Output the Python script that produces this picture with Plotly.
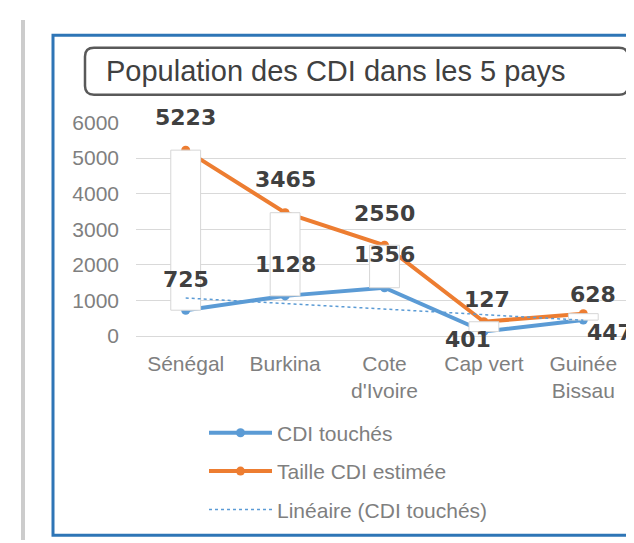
import numpy as np
import plotly.graph_objects as go

# ---- data ----
countries = ["Sénégal", "Burkina", "Cote<br>d'Ivoire", "Cap vert", "Guinée<br>Bissau"]
cdi_touches = [725, 1128, 1356, 127, 447]
taille_estimee = [5223, 3465, 2550, 401, 628]
y_ticks = [0, 1000, 2000, 3000, 4000, 5000, 6000]
title_text = "Population des CDI dans les 5 pays"
names = ["CDI touchés", "Taille CDI estimée", "Linéaire (CDI touchés)"]

# ---- style ----
W, H = 634, 543
PX0, PX1, PY0, PY1 = 128, 625, 107, 330   # plot area in pixels
BLUE, ORANGE = "#5B9BD5", "#ED7D31"
FONT = "Liberation Sans, Arial, sans-serif"
LABEL_FONT = dict(family="DejaVu Sans", size=22, color="#404040", weight="bold")
# label offsets (xshift, yshift) per point
blue_off = [(0, 31), (0, 31), (0, 33), (3, 32), (27, -12)]
orange_off = [(0, 33), (0, 33), (0, 32), (-16, -18), (10, 19)]


def px(x):
    return x / W


def py(y):
    return 1 - y / H


xdom = [px(PX0), px(PX1)]
ydom = [py(PY1), py(PY0)]

fig = go.Figure()

# lines (base subplot)
fig.add_trace(go.Scatter(x=countries, y=cdi_touches, name=names[0], mode="lines+markers",
                         legendgroup="g1",
                         line=dict(color=BLUE, width=4), marker=dict(size=9, color=BLUE),
                         hoverinfo="skip"))
fig.add_trace(go.Scatter(x=countries, y=taille_estimee, name=names[1], mode="lines+markers",
                         legendgroup="g2",
                         line=dict(color=ORANGE, width=4), marker=dict(size=9, color=ORANGE),
                         hoverinfo="skip"))

# up/down bars (overlay subplot, drawn above the lines)
lows = [min(a, b) for a, b in zip(cdi_touches, taille_estimee)]
spans = [abs(a - b) for a, b in zip(cdi_touches, taille_estimee)]
fig.add_trace(go.Bar(x=countries, y=spans, base=lows, width=0.3, xaxis="x2", yaxis="y2",
                     marker=dict(color="white", line=dict(color="#d6d6d6", width=1)),
                     showlegend=False, hoverinfo="skip"))

# linear trend line of CDI touchés (overlay subplot above bars)
xi = np.arange(1, len(cdi_touches) + 1)
coef = np.polyfit(xi, cdi_touches, 1)
trend = np.polyval(coef, xi)
fig.add_trace(go.Scatter(x=countries, y=trend, name=names[2], mode="lines", xaxis="x3", yaxis="y3",
                         legendgroup="g3",
                         line=dict(color=BLUE, width=1.5, dash="dot"), hoverinfo="skip"))

# data labels
anns = []
for series, offs in ((cdi_touches, blue_off), (taille_estimee, orange_off)):
    for c, v, (dx, dy) in zip(countries, series, offs):
        anns.append(dict(x=c, y=v, xref="x", yref="y", text=str(v), showarrow=False,
                         xshift=dx, yshift=dy, font=LABEL_FONT))
# title
anns.append(dict(x=px(96), y=py(53), xref="paper", yref="paper", xanchor="left", yanchor="middle",
                 text=title_text, showarrow=False,
                 font=dict(family=FONT, size=29, color="#404040")))


def rounded(x0, y0, x1, y1, r):
    X0, X1 = px(x0), px(x1)
    Y0, Y1 = py(y0), py(y1)
    rx, ry = r / W, r / H
    return (f"M{X0+rx},{Y0} L{X1-rx},{Y0} Q{X1},{Y0} {X1},{Y0-ry} L{X1},{Y1+ry} Q{X1},{Y1} {X1-rx},{Y1} "
            f"L{X0+rx},{Y1} Q{X0},{Y1} {X0},{Y1+ry} L{X0},{Y0-ry} Q{X0},{Y0} {X0+rx},{Y0} Z")


shapes = [
    dict(type="line", xref="paper", yref="paper", x0=px(15), x1=px(15), y0=0, y1=1,
         line=dict(color="#cccccc", width=4)),
    dict(type="rect", xref="paper", yref="paper", x0=px(45), x1=px(660), y0=py(16), y1=py(538),
         line=dict(color="#2E75B6", width=3)),
    dict(type="path", xref="paper", yref="paper", path=rounded(77, 29, 620, 78, 9),
         line=dict(color="#595959", width=2.5)),
]

axis_common = dict(type="category", categoryorder="array", categoryarray=countries,
                   range=[-0.5, len(countries) - 0.5], domain=xdom)
fig.update_layout(
    width=W, height=H,
    margin=dict(l=0, r=0, t=0, b=0),
    paper_bgcolor="white", plot_bgcolor="white",
    font=dict(family=FONT, size=21, color="#7f7f7f"),
    xaxis=dict(**axis_common, showgrid=False, showline=False, ticks="", ticklabelstandoff=13,
               tickfont=dict(size=21, color="#7f7f7f")),
    yaxis=dict(range=[0, 6000], domain=ydom, tickvals=y_ticks, showgrid=True, gridcolor="#d9d9d9",
               gridwidth=1, zeroline=True, zerolinecolor="#d9d9d9", zerolinewidth=1, ticks="",
               ticklabelstandoff=16, tickfont=dict(size=21, color="#7f7f7f")),
    xaxis2=dict(**axis_common, overlaying="x", visible=False),
    yaxis2=dict(range=[0, 6000], domain=ydom, overlaying="y", visible=False),
    xaxis3=dict(**axis_common, overlaying="x", visible=False),
    yaxis3=dict(range=[0, 6000], domain=ydom, overlaying="y", visible=False),
    showlegend=True,
    legend=dict(x=px(196), y=py(410), xanchor="left", yanchor="top", bgcolor="rgba(0,0,0,0)",
                font=dict(size=21, color="#7f7f7f"), itemwidth=63, tracegroupgap=8,
                traceorder="grouped"),
    annotations=anns,
    shapes=shapes,
)

fig.write_html("out.html")
